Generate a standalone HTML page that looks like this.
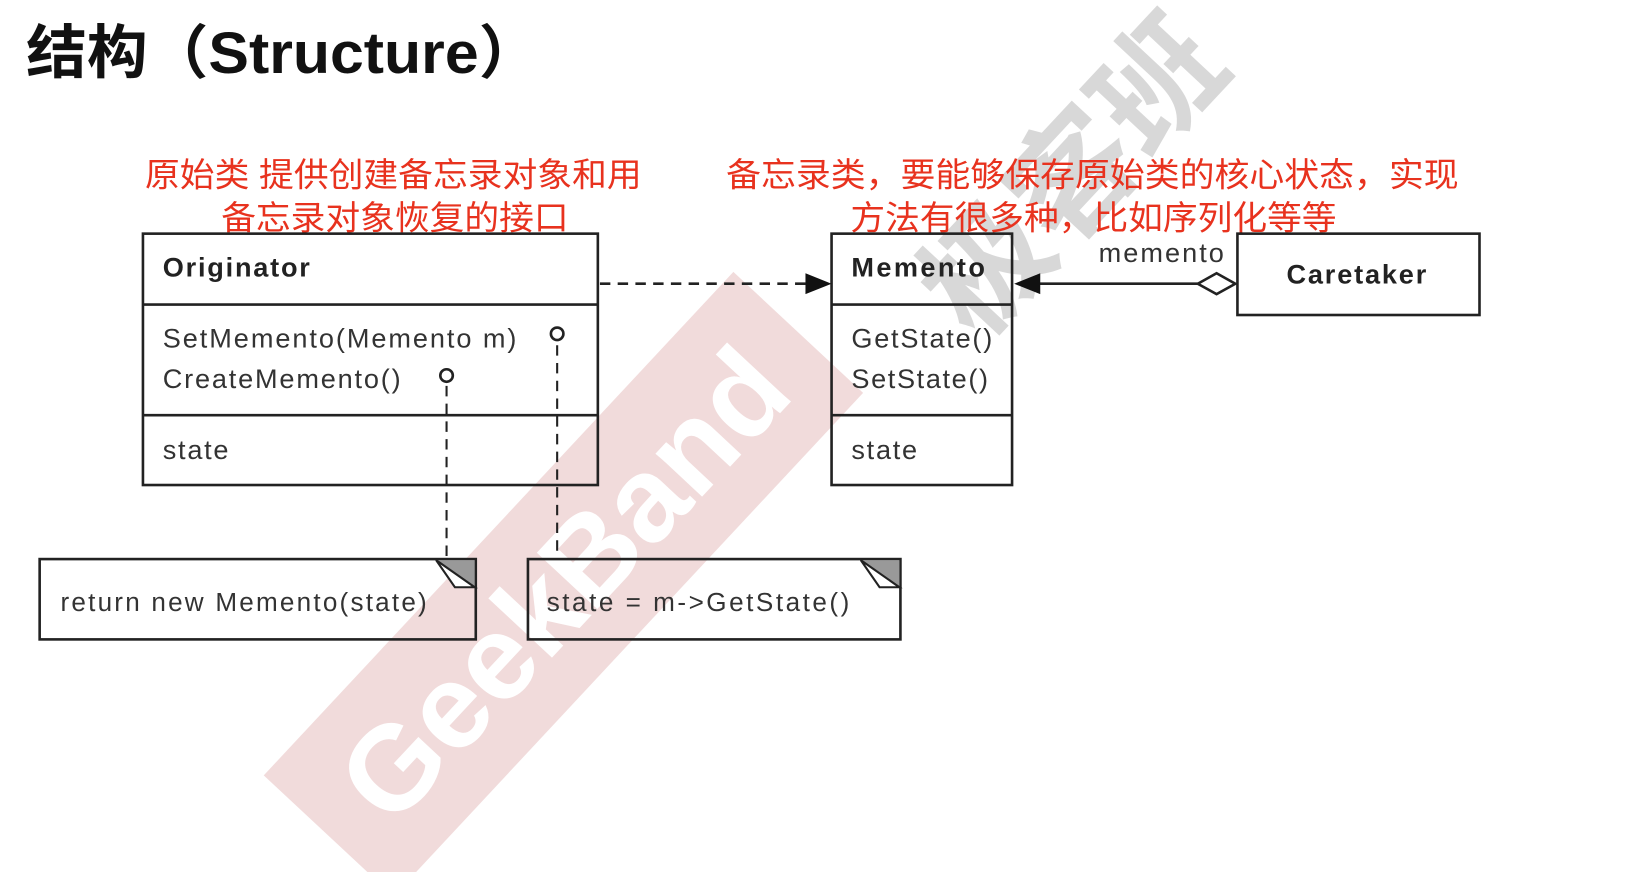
<!DOCTYPE html>
<html><head><meta charset="utf-8"><style>
html,body{margin:0;padding:0;background:#fff;}
svg{display:block}
</style></head><body>
<svg width="1636" height="872" viewBox="0 0 1568 836" preserveAspectRatio="none" xmlns="http://www.w3.org/2000/svg">
<!-- watermark -->
<g transform="translate(540,560) rotate(-47)">
  <rect x="-330" y="-85" width="660" height="170" fill="#ebcccc" opacity="0.7"/>
  <text x="0" y="40" text-anchor="middle" font-family="Liberation Sans, sans-serif" font-weight="bold" font-size="115" fill="#fff">GeekBand</text>
</g>
<g transform="translate(1030,170) rotate(-47)" opacity="0.28">
  <text x="0" y="40" text-anchor="middle" font-family="Liberation Sans, 'Noto Sans CJK SC', sans-serif" font-weight="bold" font-size="120" fill="#777">极客班</text>
</g>
<text x="25" y="70" textLength="492" lengthAdjust="spacingAndGlyphs" font-family="Liberation Sans, 'Noto Sans CJK SC', sans-serif" font-weight="bold" font-size="56" fill="#111">结构（Structure）</text>
<g font-family="Liberation Sans, 'Noto Sans CJK SC', sans-serif" font-size="32" fill="#e8321e">
<text x="139" y="179" textLength="476" lengthAdjust="spacingAndGlyphs">原始类 提供创建备忘录对象和用</text>
<text x="212" y="220" textLength="333" lengthAdjust="spacingAndGlyphs">备忘录对象恢复的接口</text>
<text x="696" y="179" textLength="702" lengthAdjust="spacingAndGlyphs">备忘录类，要能够保存原始类的核心状态，实现</text>
<text x="815" y="220" textLength="466" lengthAdjust="spacingAndGlyphs">方法有很多种，比如序列化等等</text>
</g>
<g fill="none" stroke="#222" stroke-width="2.5">
<rect x="137" y="224" width="436" height="241"/>
<line x1="137" y1="292" x2="573" y2="292"/>
<line x1="137" y1="398" x2="573" y2="398"/>
<rect x="797" y="224" width="173" height="241"/>
<line x1="797" y1="292" x2="970" y2="292"/>
<line x1="797" y1="398" x2="970" y2="398"/>
<rect x="1186" y="224" width="232" height="78"/>
<rect x="38" y="536" width="418" height="77"/>
<rect x="506" y="536" width="357" height="77"/>
<line x1="575" y1="272" x2="780" y2="272" stroke-dasharray="10,7"/>
<line x1="995" y1="272" x2="1148" y2="272"/>
<path d="M1148 272 L1166 262 L1184 272 L1166 282 Z" fill="#fff"/>
<line x1="428" y1="370" x2="428" y2="536" stroke-dasharray="10,7" stroke-width="2"/>
<line x1="534" y1="331" x2="534" y2="536" stroke-dasharray="10,7" stroke-width="2"/>
<circle cx="534" cy="320" r="6" stroke-width="2.5"/>
<circle cx="428" cy="360" r="6" stroke-width="2.5"/>
</g>
<path d="M797 272 L772 262 L772 282 Z" fill="#111"/>
<path d="M972 272 L997 262 L997 282 Z" fill="#111"/>
<path d="M418 537 L455 537 L455 563 Z" fill="#999"/>
<path d="M418 537 L455 563 L436 563 Z" fill="#fff" stroke="#222" stroke-width="2"/>
<path d="M825 537 L862 537 L862 563 Z" fill="#999"/>
<path d="M825 537 L862 563 L843 563 Z" fill="#fff" stroke="#222" stroke-width="2"/>
<g font-family="Liberation Sans, sans-serif" font-size="26" fill="#333" lengthAdjust="spacingAndGlyphs">
<text x="156" y="265" font-weight="bold" fill="#222" textLength="141">Originator</text>
<text x="156" y="333" textLength="339">SetMemento(Memento m)</text>
<text x="156" y="372" textLength="228">CreateMemento()</text>
<text x="156" y="440" textLength="63">state</text>
<text x="816" y="265" font-weight="bold" fill="#222" textLength="128">Memento</text>
<text x="816" y="333" textLength="135">GetState()</text>
<text x="816" y="372" textLength="131">SetState()</text>
<text x="816" y="440" textLength="63">state</text>
<text x="1233" y="272" font-weight="bold" fill="#222" textLength="134">Caretaker</text>
<text x="1053" y="251" textLength="120">memento</text>
<text x="58" y="586" font-size="25" textLength="351">return new Memento(state)</text>
<text x="524" y="586" font-size="25" textLength="290">state = m-&gt;GetState()</text>
</g>
</svg>
</body></html>
